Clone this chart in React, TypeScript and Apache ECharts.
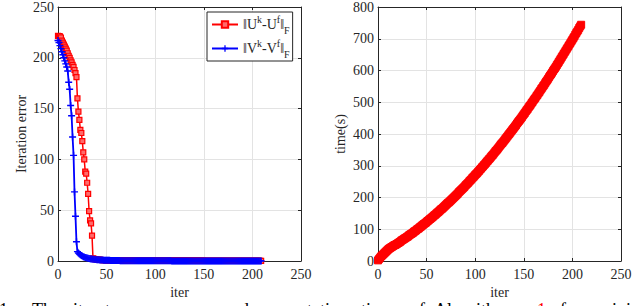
import React, { useEffect, useRef } from "react";
import * as echarts from "echarts";

// ---------- data ----------
const U_NAME = "‖Uk-Uf‖F";
const V_NAME = "‖Vk-Vf‖F";

// iteration error ||U^k - U^f||_F, iterations 0..209
const uErr: number[] = [
  221.5, 221.3, 221, 220, 217, 215, 213, 211, 209, 207,
  204.5, 202, 200, 197.5, 195.5, 193, 191, 188, 185, 181,
  160, 147, 139, 129, 126, 118, 107, 100, 88, 86,
  77, 66, 49, 40, 37, 25, 2.6, 2.2, 1.9, 1.7,
  1.5, 1.4, 1.3, 1.2, 1.1, 1.0, 0.95, 0.9, 0.85, 0.8,
  0.75, 0.7, 0.68, 0.65, 0.62, 0.6, 0.58, 0.56, 0.54, 0.52,
  0.5, 0.49, 0.48, 0.47, 0.46, 0.45, 0.44, 0.43, 0.42, 0.41,
  0.4, 0.4, 0.4, 0.4, 0.4, 0.39, 0.39, 0.39, 0.39, 0.39,
  0.38, 0.38, 0.38, 0.38, 0.38, 0.37, 0.37, 0.37, 0.37, 0.37,
  0.36, 0.36, 0.36, 0.36, 0.36, 0.35, 0.35, 0.35, 0.35, 0.35,
  0.34, 0.34, 0.34, 0.34, 0.34, 0.33, 0.33, 0.33, 0.33, 0.33,
  0.32, 0.32, 0.32, 0.32, 0.32, 0.31, 0.31, 0.31, 0.31, 0.31,
  0.3, 0.3, 0.3, 0.3, 0.3, 0.3, 0.3, 0.3, 0.3, 0.3,
  0.29, 0.29, 0.29, 0.29, 0.29, 0.29, 0.29, 0.29, 0.29, 0.29,
  0.28, 0.28, 0.28, 0.28, 0.28, 0.28, 0.28, 0.28, 0.28, 0.28,
  0.27, 0.27, 0.27, 0.27, 0.27, 0.27, 0.27, 0.27, 0.27, 0.27,
  0.26, 0.26, 0.26, 0.26, 0.26, 0.26, 0.26, 0.26, 0.26, 0.26,
  0.25, 0.25, 0.25, 0.25, 0.25, 0.25, 0.25, 0.25, 0.25, 0.25,
  0.24, 0.24, 0.24, 0.24, 0.24, 0.24, 0.24, 0.24, 0.24, 0.24,
  0.23, 0.23, 0.23, 0.23, 0.23, 0.23, 0.23, 0.23, 0.23, 0.23,
  0.22, 0.22, 0.22, 0.22, 0.22, 0.22, 0.22, 0.22, 0.22, 0.22,
];

// iteration error ||V^k - V^f||_F, iterations 0..209
const vErr: number[] = [
  217, 215, 212, 209, 206, 203, 200, 197, 194, 191,
  187, 176, 169, 153, 143, 122, 104, 68, 44, 19,
  9.2, 7.9, 6.9, 6.1, 5.4, 4.8, 4.3, 3.9, 3.5, 3.2,
  2.9, 2.6, 2.4, 2.2, 2.0, 1.85, 1.7, 1.6, 1.5, 1.4,
  1.3, 1.22, 1.15, 1.08, 1.02, 0.96, 0.9, 0.85, 0.8, 0.76,
  0.72, 0.68, 0.65, 0.62, 0.59, 0.56, 0.53, 0.5, 0.48, 0.46,
  0.44, 0.42, 0.4, 0.38, 0.36, 0.35, 0.34, 0.33, 0.32, 0.31,
  0.3, 0.29, 0.28, 0.27, 0.26, 0.25, 0.24, 0.24, 0.23, 0.23,
  0.22, 0.22, 0.21, 0.21, 0.2, 0.2, 0.2, 0.19, 0.19, 0.19,
  0.18, 0.18, 0.18, 0.17, 0.17, 0.17, 0.16, 0.16, 0.16, 0.16,
  0.15, 0.15, 0.15, 0.15, 0.15, 0.14, 0.14, 0.14, 0.14, 0.14,
  0.13, 0.13, 0.13, 0.13, 0.13, 0.13, 0.13, 0.12, 0.12, 0.12,
  0.12, 0.12, 0.12, 0.12, 0.12, 0.11, 0.11, 0.11, 0.11, 0.11,
  0.11, 0.11, 0.11, 0.11, 0.11, 0.1, 0.1, 0.1, 0.1, 0.1,
  0.1, 0.1, 0.1, 0.1, 0.1, 0.1, 0.1, 0.1, 0.1, 0.1,
  0.1, 0.1, 0.1, 0.1, 0.1, 0.1, 0.1, 0.1, 0.1, 0.1,
  0.1, 0.1, 0.1, 0.1, 0.1, 0.1, 0.1, 0.1, 0.1, 0.1,
  0.1, 0.1, 0.1, 0.1, 0.1, 0.1, 0.1, 0.1, 0.1, 0.1,
  0.1, 0.1, 0.1, 0.1, 0.1, 0.1, 0.1, 0.1, 0.1, 0.1,
  0.1, 0.1, 0.1, 0.1, 0.1, 0.1, 0.1, 0.1, 0.1, 0.1,
  0.1, 0.1, 0.1, 0.1, 0.1, 0.1, 0.1, 0.1, 0.1, 0.1,
];

// cumulative time (s), iterations 0..209
const timeSec: number[] = [
  2, 6, 10, 14, 17, 20, 23, 26, 29, 32, 35, 38,
  40, 42, 44, 46, 48, 50, 51, 53, 55, 57,
  59, 61, 64, 66, 68, 70, 72, 74, 76, 78,
  81, 83, 85, 87, 89, 92, 94, 96, 99, 101,
  103, 106, 108, 111, 113, 116, 118, 120, 123, 126,
  128, 131, 133, 136, 138, 141, 144, 146, 149, 152,
  154, 157, 160, 163, 165, 168, 171, 174, 177, 180,
  183, 185, 188, 191, 194, 197, 200, 203, 206, 209,
  212, 216, 219, 222, 225, 228, 231, 234, 238, 241,
  244, 247, 251, 254, 257, 261, 264, 267, 271, 274,
  277, 281, 284, 288, 291, 295, 298, 302, 305, 309,
  313, 316, 320, 323, 327, 331, 334, 338, 342, 346,
  349, 353, 357, 361, 365, 369, 372, 376, 380, 384,
  388, 392, 396, 400, 404, 408, 412, 416, 420, 424,
  428, 433, 437, 441, 445, 449, 453, 458, 462, 466,
  471, 475, 479, 484, 488, 492, 497, 501, 506, 510,
  514, 519, 523, 528, 532, 537, 542, 546, 551, 555,
  560, 565, 569, 574, 579, 584, 588, 593, 598, 603,
  607, 612, 617, 622, 627, 632, 637, 642, 647, 652,
  657, 662, 667, 672, 677, 682, 687, 692, 697, 702,
  707, 713, 718, 723, 728, 734, 739, 744,
];

const X_MAX = 250;
const X_STEP = 50;
const ERR_MAX = 250;
const ERR_STEP = 50;
const TIME_MAX = 800;
const TIME_STEP = 100;

// caption words (clipped at the bottom edge in the reference)
const CAPTION_WORDS: string[] = [
  "1.", "The", "iterates", "errors", "and", "computation", "time", "of",
  "Algorithm", "1", "for", "minimizing",
];
const CAPTION_X: number[] = [-1, 32, 73, 138, 223, 258, 361, 410, 434, 537, 560, 598];
const CAPTION_RED: boolean[] = [false, false, false, false, false, false, false, false, false, true, false, false];

// ---------- styling ----------
const FONT = "Liberation Serif";
const AXIS_COLOR = "#262626";
const GRID_COLOR = "#e3e3e3";

function makeAxis(
  kind: "x" | "y",
  gridIndex: number,
  max: number,
  interval: number,
  mirror: boolean,
  name?: string,
  nameGap?: number
) {
  return {
    type: "value",
    gridIndex,
    min: 0,
    max,
    interval,
    position: kind === "x" ? (mirror ? "top" : "bottom") : mirror ? "right" : "left",
    name: mirror ? undefined : name,
    nameLocation: "middle",
    nameGap,
    nameTextStyle: { fontFamily: FONT, fontSize: 14, color: AXIS_COLOR },
    axisLine: { show: true, onZero: false, lineStyle: { color: AXIS_COLOR, width: 1 } },
    axisTick: { show: true, inside: true, length: 3, lineStyle: { color: AXIS_COLOR, width: 1 } },
    axisLabel: {
      show: !mirror,
      fontFamily: FONT,
      fontSize: 14,
      color: AXIS_COLOR,
      margin: kind === "x" ? 6 : 4,
      formatter: (v: number) => "{t|" + v + "}",
      rich: {
        t: { fontFamily: FONT, fontSize: 14, color: AXIS_COLOR },
      },
    },
    splitLine: { show: !mirror, lineStyle: { color: GRID_COLOR, width: 1 } },
  };
}

const PLUS = "path://M4,0H6V4H10V6H6V10H4V6H0V4H4Z";

export default function App() {
  const ref = useRef<HTMLDivElement>(null);

  useEffect(() => {
    document.body.style.margin = "0";
    if (!ref.current) return;
    const chart = echarts.init(ref.current, undefined, { renderer: "svg" });

    const captionGraphics = CAPTION_WORDS.map((w, i) => ({
      type: "text",
      x: CAPTION_X[i],
      y: 301,
      silent: true,
      style: {
        text: w,
        fontFamily: FONT,
        fontSize: 18,
        fill: CAPTION_RED[i] ? "#ff0000" : "#000000",
        verticalAlign: "top",
      },
    }));

    const option = {
      animation: false,
      backgroundColor: "#ffffff",
      textStyle: { fontFamily: FONT },
      grid: [
        { left: 58, top: 6, width: 243, height: 255, containLabel: false },
        { left: 378, top: 6, width: 243, height: 255, containLabel: false },
      ],
      xAxis: [
        makeAxis("x", 0, X_MAX, X_STEP, false, "iter", 22),
        makeAxis("x", 0, X_MAX, X_STEP, true),
        makeAxis("x", 1, X_MAX, X_STEP, false, "iter", 22),
        makeAxis("x", 1, X_MAX, X_STEP, true),
      ],
      yAxis: [
        makeAxis("y", 0, ERR_MAX, ERR_STEP, false, "Iteration error", 30),
        makeAxis("y", 0, ERR_MAX, ERR_STEP, true),
        makeAxis("y", 1, TIME_MAX, TIME_STEP, false, "time(s)", 31),
        makeAxis("y", 1, TIME_MAX, TIME_STEP, true),
      ],
      legend: {
        data: [U_NAME, V_NAME],
        orient: "vertical",
        left: 207,
        top: 12,
        selectedMode: false,
        backgroundColor: "#ffffff",
        borderColor: AXIS_COLOR,
        borderWidth: 1,
        borderRadius: 0,
        padding: [2, 3, 2, 4],
        itemGap: 3,
        itemWidth: 26,
        itemHeight: 8,
        formatter: (name: string) =>
          name === U_NAME
            ? "{n|‖U}{sup|k}{n|-U}{sup|f}{n|‖}{sub|F}"
            : "{n|‖V}{sup|k}{n|-V}{sup|f}{n|‖}{sub|F}",
        textStyle: {
          fontFamily: FONT,
          fontSize: 14,
          color: AXIS_COLOR,
          rich: {
            n: { fontFamily: FONT, fontSize: 14, lineHeight: 21, color: AXIS_COLOR },
            sup: { fontFamily: FONT, fontSize: 10, lineHeight: 12, verticalAlign: "top", color: AXIS_COLOR },
            sub: { fontFamily: FONT, fontSize: 10, lineHeight: 10, verticalAlign: "bottom", color: AXIS_COLOR },
          },
        },
      },
      series: [
        {
          name: U_NAME,
          type: "line",
          xAxisIndex: 0,
          yAxisIndex: 0,
          data: uErr.map((v, i) => [i, v]),
          symbol: "rect",
          symbolSize: 5,
          showAllSymbol: true,
          lineStyle: { color: "#ff0000", width: 1.5 },
          itemStyle: { color: "#ff6a6a", borderColor: "#ff0000", borderWidth: 1.2 },
        },
        {
          name: V_NAME,
          type: "line",
          xAxisIndex: 0,
          yAxisIndex: 0,
          data: vErr.map((v, i) => [i, v]),
          symbol: PLUS,
          symbolSize: 7,
          showAllSymbol: true,
          lineStyle: { color: "#0000ff", width: 1.8 },
          itemStyle: { color: "#0000ff" },
        },
        {
          name: "time",
          type: "line",
          xAxisIndex: 2,
          yAxisIndex: 2,
          data: timeSec.map((v, i) => [i, v]),
          symbol: "rect",
          symbolSize: 7,
          showAllSymbol: true,
          lineStyle: { color: "#ff0000", width: 1.5 },
          itemStyle: { color: "#ff0000", borderColor: "#ff0000", borderWidth: 1 },
        },
      ],
      graphic: captionGraphics,
    };

    chart.setOption(option as any);
    return () => chart.dispose();
  }, []);

  return <div ref={ref} style={{ width: 640, height: 306 }} />;
}
